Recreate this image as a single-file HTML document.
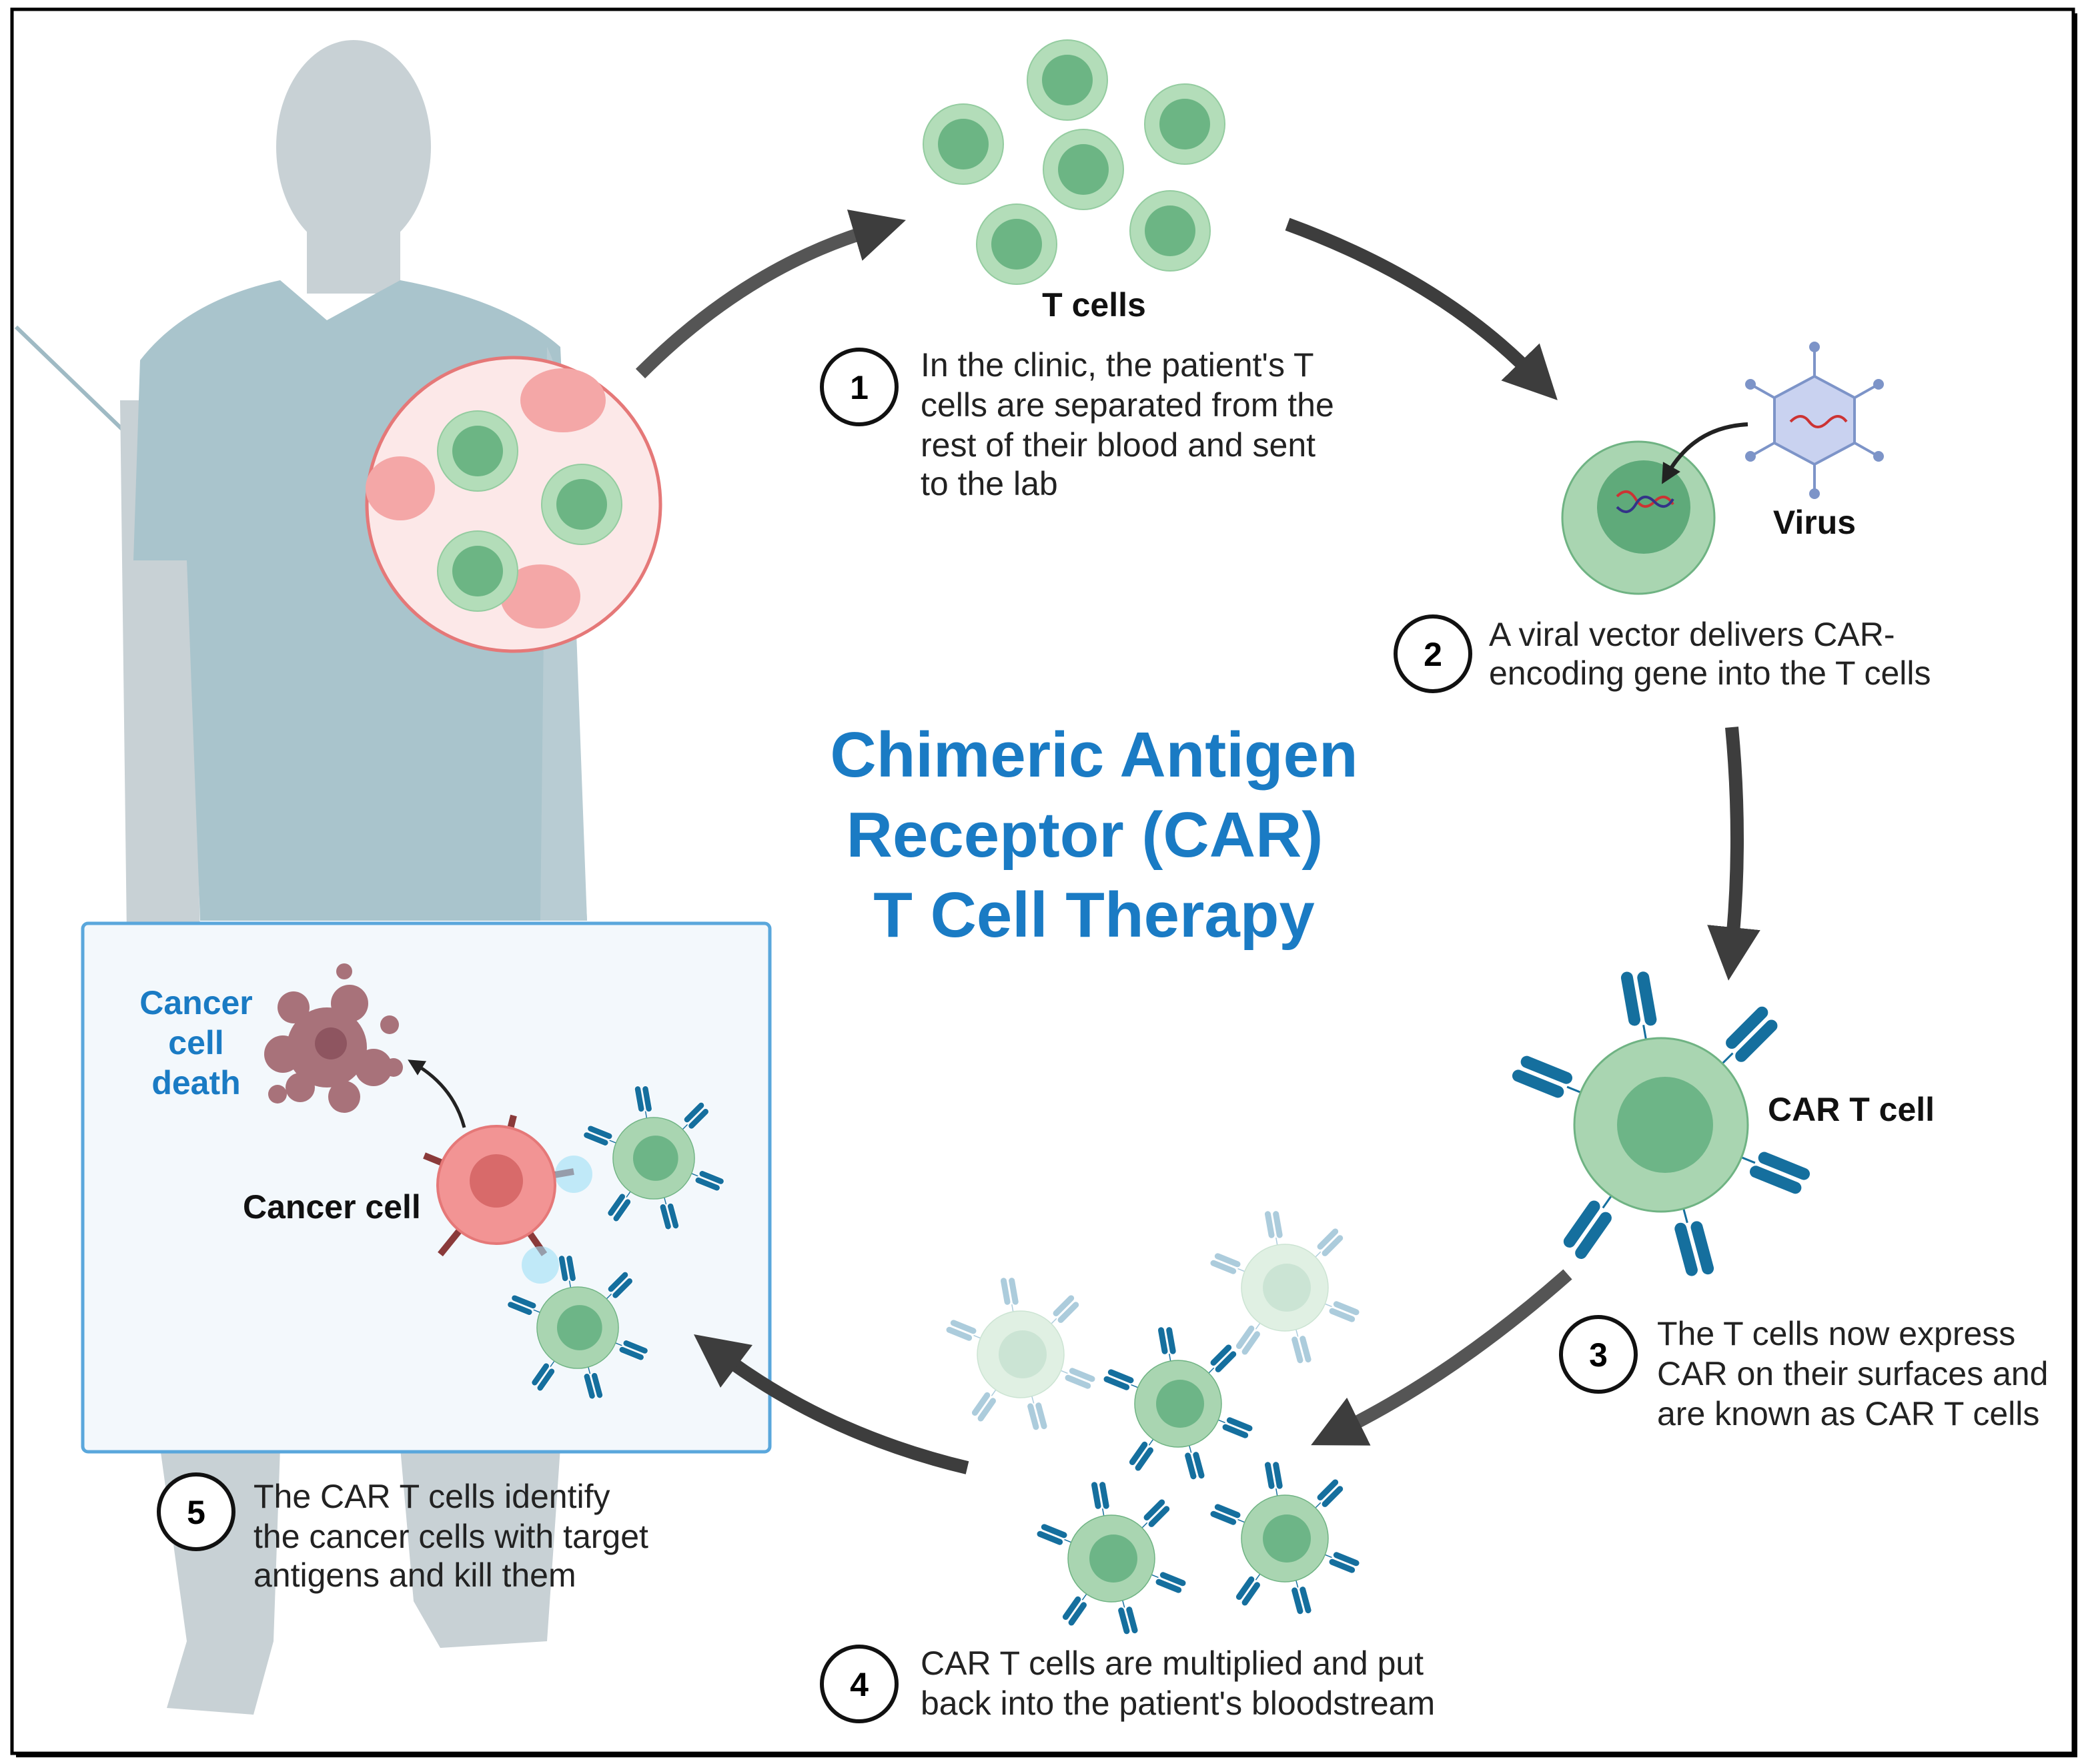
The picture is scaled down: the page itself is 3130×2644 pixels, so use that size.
<!DOCTYPE html>
<html><head><meta charset="utf-8"><style>
html,body{margin:0;padding:0;background:#fff;}
svg{display:block;}
text{font-family:"Liberation Sans",Arial,sans-serif;}
</style></head><body>
<svg width="3130" height="2644" viewBox="0 0 1565 1322" xmlns="http://www.w3.org/2000/svg">
<defs>
<symbol id="rec" overflow="visible">
<line x1="0" y1="0" x2="0" y2="-12" stroke="#156f9e" stroke-width="1.5"/>
<rect x="-11" y="-54" width="10" height="42" rx="5" fill="#156f9e" stroke="#fff" stroke-width="1"/>
<rect x="1" y="-52" width="10" height="42" rx="5" fill="#156f9e" stroke="#fff" stroke-width="1"/>
</symbol>
<g id="cart">
<use href="#rec" transform="rotate(-10) translate(0,-64)"/>
<use href="#rec" transform="rotate(45) translate(0,-64)"/>
<use href="#rec" transform="rotate(112) translate(0,-64)"/>
<use href="#rec" transform="rotate(165) translate(0,-64)"/>
<use href="#rec" transform="rotate(215) translate(0,-64)"/>
<use href="#rec" transform="rotate(292) translate(0,-64)"/>
<circle r="65" fill="#a9d5b1" stroke="#6fb383" stroke-width="1.5"/>
<circle cx="3" cy="0" r="36" fill="#6db587"/>
</g>
<g id="tcell">
<circle r="30" fill="#b3ddb9" stroke="#94cca0" stroke-width="1"/>
<circle r="19" fill="#6cb584"/>
</g>
<marker id="ah" markerWidth="4" markerHeight="4" refX="1.5" refY="2" orient="auto" markerUnits="strokeWidth">
<path d="M0,0 L4,2 L0,4 z" fill="#3d3d3d"/>
</marker>
<marker id="ahs" markerWidth="5" markerHeight="5" refX="2" refY="2.5" orient="auto" markerUnits="strokeWidth">
<path d="M0,0 L5,2.5 L0,5 z" fill="#222"/>
</marker>
</defs>

<!-- frame -->
<rect x="12" y="10" width="1545" height="1307" fill="#000"/>
<rect x="9" y="7" width="1545" height="1307" fill="#fff" stroke="#000" stroke-width="2.5"/>

<!-- IV tube -->
<line x1="12" y1="245" x2="95" y2="325" stroke="#9fbac4" stroke-width="3"/>

<!-- person -->
<g fill="#c8d1d5">
<ellipse cx="265" cy="110" rx="58" ry="80"/>
<rect x="230" y="150" width="70" height="70"/>
<path d="M90 300 L140 300 L150 700 L95 700 Z"/>
<path d="M120 1085 L210 1085 L205 1230 L190 1285 L125 1280 L140 1230 Z"/>
<path d="M300 1085 L420 1085 L410 1230 L330 1235 L310 1200 Z"/>
</g>
<path d="M105 270 Q140 225 210 210 L245 240 L300 210 Q380 225 420 260 L440 690 L150 690 L140 420 L100 420 Z" fill="#a9c4cc"/>
<path d="M410 260 Q430 300 430 420 L440 690 L405 690 Z" fill="#b8ccd3"/>

<!-- blood circle -->
<circle cx="385" cy="378" r="110" fill="#fce8e8" stroke="#e57878" stroke-width="2.5"/>
<ellipse cx="422" cy="300" rx="32" ry="24" fill="#f4a7a7"/>
<ellipse cx="300" cy="366" rx="26" ry="24" fill="#f4a7a7"/>
<ellipse cx="405" cy="447" rx="30" ry="24" fill="#f4a7a7"/>
<use href="#tcell" transform="translate(358,338)"/>
<use href="#tcell" transform="translate(436,378)"/>
<use href="#tcell" transform="translate(358,428)"/>

<!-- T cells cluster -->
<use href="#tcell" transform="translate(800,60)"/>
<use href="#tcell" transform="translate(722,108)"/>
<use href="#tcell" transform="translate(888,93)"/>
<use href="#tcell" transform="translate(812,127)"/>
<use href="#tcell" transform="translate(762,183)"/>
<use href="#tcell" transform="translate(877,173)"/>
<text x="820" y="237" font-size="25" font-weight="bold" text-anchor="middle" fill="#111">T cells</text>

<!-- step 1 -->
<circle cx="644" cy="290" r="28" fill="#fff" stroke="#111" stroke-width="3"/>
<text x="644" y="299" font-size="25" font-weight="bold" text-anchor="middle">1</text>
<g font-size="25" fill="#222">
<text x="690" y="282">In the clinic, the patient's T</text>
<text x="690" y="312">cells are separated from the</text>
<text x="690" y="342">rest of their blood and sent</text>
<text x="690" y="371">to the lab</text>
</g>

<!-- virus step 2 -->
<circle cx="1228" cy="388" r="57" fill="#a9d5b1" stroke="#6fb383" stroke-width="1.5"/>
<circle cx="1232" cy="380" r="35" fill="#5faa7a"/>
<path d="M1212 372 q8 -8 14 2 t14 2 t14 2" stroke="#c33" stroke-width="2" fill="none"/>
<path d="M1212 380 q8 8 14 -2 t14 -2 t14 -2" stroke="#338" stroke-width="2" fill="none"/>
<path d="M1310 318 Q1270 320 1250 355" fill="none" stroke="#222" stroke-width="3" marker-end="url(#ahs)"/>
<g stroke="#7d94c8" stroke-width="2" fill="none">
<line x1="1360" y1="315" x2="1360" y2="260"/><line x1="1360" y1="315" x2="1360" y2="370"/>
<line x1="1360" y1="315" x2="1312" y2="288"/><line x1="1360" y1="315" x2="1408" y2="288"/>
<line x1="1360" y1="315" x2="1312" y2="342"/><line x1="1360" y1="315" x2="1408" y2="342"/>
</g>
<g fill="#7d94c8"><circle cx="1360" cy="260" r="4"/><circle cx="1360" cy="370" r="4"/><circle cx="1312" cy="288" r="4"/><circle cx="1408" cy="288" r="4"/><circle cx="1312" cy="342" r="4"/><circle cx="1408" cy="342" r="4"/></g>
<polygon points="1360,282 1390,298 1390,332 1360,348 1330,332 1330,298" fill="#c9d2f0" stroke="#7d94c8" stroke-width="2"/>
<path d="M1342 316 q8 -8 14 0 t14 0 t14 0" stroke="#c33" stroke-width="2" fill="none"/>
<text x="1360" y="400" font-size="25" font-weight="bold" text-anchor="middle" fill="#111">Virus</text>
<circle cx="1074" cy="490" r="28" fill="#fff" stroke="#111" stroke-width="3"/>
<text x="1074" y="499" font-size="25" font-weight="bold" text-anchor="middle">2</text>
<g font-size="25" fill="#222">
<text x="1116" y="484">A viral vector delivers CAR-</text>
<text x="1116" y="513">encoding gene into the T cells</text>
</g>

<!-- title -->
<g font-size="48" font-weight="bold" fill="#1a7bc4" text-anchor="middle">
<text x="820" y="582">Chimeric Antigen</text>
<text x="813" y="642">Receptor (CAR)</text>
<text x="820" y="702">T Cell Therapy</text>
</g>

<!-- step 3 CAR T -->
<use href="#cart" transform="translate(1245,843)"/>
<text x="1325" y="840" font-size="25" font-weight="bold" fill="#111">CAR T cell</text>
<circle cx="1198" cy="1015" r="28" fill="#fff" stroke="#111" stroke-width="3"/>
<text x="1198" y="1024" font-size="25" font-weight="bold" text-anchor="middle">3</text>
<g font-size="25" fill="#222">
<text x="1242" y="1008">The T cells now express</text>
<text x="1242" y="1038">CAR on their surfaces and</text>
<text x="1242" y="1068">are known as CAR T cells</text>
</g>

<!-- step 4 -->
<g opacity="0.35"><use href="#cart" transform="translate(765,1015) scale(0.5)"/><use href="#cart" transform="translate(963,965) scale(0.5)"/></g>
<use href="#cart" transform="translate(883,1052) scale(0.5)"/>
<use href="#cart" transform="translate(833,1168) scale(0.5)"/>
<use href="#cart" transform="translate(963,1153) scale(0.5)"/>
<circle cx="644" cy="1262" r="28" fill="#fff" stroke="#111" stroke-width="3"/>
<text x="644" y="1271" font-size="25" font-weight="bold" text-anchor="middle">4</text>
<g font-size="25" fill="#222">
<text x="690" y="1255">CAR T cells are multiplied and put</text>
<text x="690" y="1285">back into the patient's bloodstream</text>
</g>

<!-- box step 5 -->
<rect x="62" y="692" width="515" height="396" rx="4" fill="#f3f8fc" stroke="#5aa7dc" stroke-width="2.5"/>
<g fill="#a8727a">
<circle cx="245" cy="785" r="30"/><circle cx="212" cy="790" r="14"/><circle cx="220" cy="755" r="12"/>
<circle cx="262" cy="752" r="14"/><circle cx="280" cy="800" r="14"/><circle cx="258" cy="822" r="12"/>
<circle cx="225" cy="815" r="11"/><circle cx="292" cy="768" r="7"/><circle cx="258" cy="728" r="6"/><circle cx="295" cy="800" r="7"/><circle cx="208" cy="820" r="7"/>
</g>
<circle cx="248" cy="782" r="12" fill="#8e5560"/>
<path d="M348 845 Q340 815 312 798" fill="none" stroke="#222" stroke-width="2.5" marker-end="url(#ahs)"/>
<g font-size="25" font-weight="bold" fill="#1a7bc4" text-anchor="middle">
<text x="147" y="760">Cancer</text><text x="147" y="790">cell</text><text x="147" y="820">death</text>
</g>
<g stroke="#8a3a3a" stroke-width="5">
<line x1="372" y1="888" x2="385" y2="836"/><line x1="372" y1="888" x2="318" y2="866"/>
<line x1="372" y1="888" x2="330" y2="940"/><line x1="372" y1="888" x2="408" y2="940"/><line x1="372" y1="888" x2="430" y2="878"/>
</g>
<circle cx="430" cy="880" r="14" fill="#9ee0f5" opacity="0.6"/>
<circle cx="405" cy="948" r="14" fill="#9ee0f5" opacity="0.6"/>
<circle cx="372" cy="888" r="44" fill="#f29494" stroke="#e57878" stroke-width="2"/>
<circle cx="372" cy="885" r="20" fill="#d86a6a"/>
<use href="#cart" transform="translate(490,868) scale(0.47)"/>
<use href="#cart" transform="translate(433,995) scale(0.47)"/>
<text x="182" y="913" font-size="25" font-weight="bold" fill="#111">Cancer cell</text>
<circle cx="147" cy="1133" r="28" fill="#fff" stroke="#111" stroke-width="3"/>
<text x="147" y="1142" font-size="25" font-weight="bold" text-anchor="middle">5</text>
<g font-size="25" fill="#222">
<text x="190" y="1130">The CAR T cells identify</text>
<text x="190" y="1160">the cancer cells with target</text>
<text x="190" y="1189">antigens and kill them</text>
</g>

<!-- arrows (on top) -->
<g fill="none" stroke="#3d3d3d" stroke-width="10" stroke-linecap="butt">
<path d="M480 280 Q560 200 655 172" marker-end="url(#ah)" stroke="#555"/>
<path d="M965 168 Q1080 210 1150 282" marker-end="url(#ah)"/>
<path d="M1298 545 Q1306 630 1298 710" marker-end="url(#ah)"/>
<path d="M1175 955 Q1090 1030 1005 1072" marker-end="url(#ah)" stroke="#555"/>
<path d="M725 1100 Q620 1075 540 1015" marker-end="url(#ah)"/>
</g>
</svg>
</body></html>
